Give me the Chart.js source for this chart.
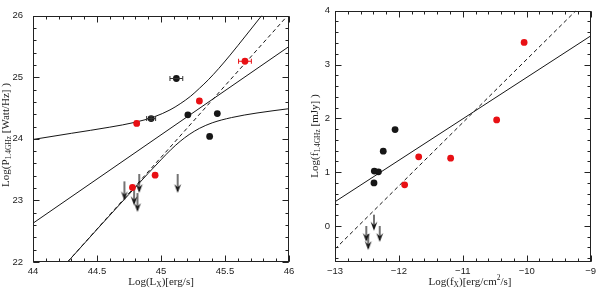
<!DOCTYPE html>
<html><head><meta charset="utf-8">
<script src="https://cdn.jsdelivr.net/npm/chart.js@4/dist/chart.umd.min.js"></script>
<style>
html,body{margin:0;padding:0;background:#fff;}
#wrap{width:600px;height:290px;position:relative;overflow:hidden;}
.c{position:absolute;top:0;width:300px;height:290px;}
</style></head><body>
<div id="wrap">
<div class="c" style="left:0"><canvas id="left" width="300" height="290"></canvas></div>
<div class="c" style="left:300px"><canvas id="right" width="300" height="290"></canvas></div>
</div>
<script>
// ---------------- Left panel data: Log(Lx) vs Log(P1.4GHz) ----------------
const leftBlackX = [45.12, 44.923, 45.21, 45.44, 45.38];
const leftBlackY = [24.98, 24.33, 24.39, 24.41, 24.04];
const leftBlackXErr = [0.05, 0.035, 0, 0, 0];
const leftBlackYErr = [0, 0.03, 0, 0, 0];
const leftRedX = [45.656, 45.30, 44.81, 44.954, 44.777];
const leftRedY = [25.26, 24.615, 24.25, 23.41, 23.21];
const leftRedXErr = [0.05, 0, 0, 0, 0];
const leftRedYErr = [0, 0.03, 0.035, 0, 0];
const leftLimitX = [44.714, 44.79, 44.816, 44.83, 45.13];
const leftLimitY = [23.31, 23.23, 23.12, 23.43, 23.43];
const leftFitX = [44, 46];
const leftFitY = [22.63, 25.50];
const leftDashX = [44.27, 45.98];
const leftDashY = [22.0, 25.98];
const leftUpperX = [44.0, 44.3, 44.6, 44.8, 44.95, 45.07, 45.15, 45.23, 45.30, 45.37, 45.45, 45.54, 45.66, 45.79];
const leftUpperY = [23.99, 24.09, 24.19, 24.27, 24.36, 24.47, 24.57, 24.69, 24.82, 24.96, 25.14, 25.36, 25.67, 26.01];
const leftLowerX = [44.27, 44.5, 44.75, 44.9, 45.0, 45.08, 45.15, 45.22, 45.3, 45.4, 45.55, 45.75, 46.0];
const leftLowerY = [22.0, 22.53, 23.1, 23.44, 23.66, 23.83, 23.96, 24.07, 24.17, 24.26, 24.345, 24.42, 24.49];
const leftXTicks = [44, 44.5, 45, 45.5, 46];
const leftYTicks = [22, 23, 24, 25, 26];

// ---------------- Right panel data: Log(fx) vs Log(f1.4GHz) ----------------
const rightBlackX = [-12.06, -12.245, -12.385, -12.32, -12.39];
const rightBlackY = [1.79, 1.39, 1.02, 1.005, 0.80];
const rightRedX = [-10.04, -10.47, -11.69, -11.19, -11.91];
const rightRedY = [3.41, 1.97, 1.285, 1.26, 0.764];
const rightLimitX = [-12.39, -12.30, -12.51, -12.48];
const rightLimitY = [0.21, 0.0, 0.0, -0.15];
const rightFitX = [-13, -9];
const rightFitY = [0.45, 3.53];
const rightDashX = [-13, -9.23];
const rightDashY = [-0.43, 4.0];
const rightXTicks = [-13, -12, -11, -10, -9];
const rightYTicks = [0, 1, 2, 3, 4];

const pts = (xs, ys) => xs.map((x, i) => ({x, y: ys[i]}));
const RED = 'rgb(232,16,20)';
const INK = '#161616';

function makeArrow(len) {
  const c = document.createElement('canvas');
  c.width = 12; c.height = 2 * len + 4;
  const g = c.getContext('2d');
  const cy = c.height / 2;
  g.strokeStyle = INK; g.lineWidth = 1.2;
  g.beginPath(); g.moveTo(6, cy); g.lineTo(6, cy + len - 2); g.stroke();
  g.fillStyle = INK;
  g.beginPath();
  g.moveTo(6, cy + len);
  g.lineTo(2.6, cy + len - 9);
  g.lineTo(6, cy + len - 5.5);
  g.lineTo(9.4, cy + len - 9);
  g.closePath(); g.fill();
  return c;
}

const errorBars = {
  id: 'errorBars',
  afterDatasetsDraw(chart) {
    const {ctx, scales: {x, y}} = chart;
    ctx.save();
    ctx.lineWidth = 1;
    chart.data.datasets.forEach((ds) => {
      if (!ds.errX && !ds.errY) return;
      ctx.strokeStyle = ds.errColor || INK;
      ds.data.forEach((p, i) => {
        const ex = ds.errX ? ds.errX[i] : 0, ey = ds.errY ? ds.errY[i] : 0;
        const py = y.getPixelForValue(p.y), px = x.getPixelForValue(p.x);
        if (ex > 0) {
          const a = x.getPixelForValue(p.x - ex), b = x.getPixelForValue(p.x + ex);
          ctx.beginPath();
          ctx.moveTo(a, py); ctx.lineTo(b, py);
          ctx.moveTo(a, py - 2.5); ctx.lineTo(a, py + 2.5);
          ctx.moveTo(b, py - 2.5); ctx.lineTo(b, py + 2.5);
          ctx.stroke();
        }
        if (ey > 0) {
          const a = y.getPixelForValue(p.y - ey), b = y.getPixelForValue(p.y + ey);
          ctx.beginPath();
          ctx.moveTo(px, a); ctx.lineTo(px, b);
          ctx.moveTo(px - 2.5, a); ctx.lineTo(px + 2.5, a);
          ctx.moveTo(px - 2.5, b); ctx.lineTo(px + 2.5, b);
          ctx.stroke();
        }
      });
    });
    ctx.restore();
  }
};

const frameTicks = {
  id: 'frameTicks',
  afterDraw(chart, args, o) {
    const {ctx, chartArea: a, scales: {x, y}} = chart;
    ctx.save();
    ctx.strokeStyle = '#222'; ctx.lineWidth = 1;
    const L = Math.round(a.left) + 0.5, R = Math.round(a.right) - 0.5;
    const T = Math.round(a.top) + 0.5, B = Math.round(a.bottom) - 0.5;
    ctx.strokeRect(L, T, R - L, B - T);
    const drawX = (v, len) => {
      const p = Math.round(x.getPixelForValue(v)) + 0.5;
      ctx.beginPath(); ctx.moveTo(p, B); ctx.lineTo(p, B - len);
      ctx.moveTo(p, T); ctx.lineTo(p, T + len); ctx.stroke();
    };
    const drawY = (v, len) => {
      const p = Math.round(y.getPixelForValue(v)) + 0.5;
      ctx.beginPath(); ctx.moveTo(L, p); ctx.lineTo(L + len, p);
      ctx.moveTo(R, p); ctx.lineTo(R - len, p); ctx.stroke();
    };
    const minors = (sc, step, fn) => {
      const n0 = Math.ceil(sc.min / step - 1e-6), n1 = Math.floor(sc.max / step + 1e-6);
      for (let n = n0; n <= n1; n++) fn(n * step, 3);
    };
    minors(x, o.xMinor, drawX);
    minors(y, o.yMinor, drawY);
    o.xMajor.forEach(v => drawX(v, 6));
    o.yMajor.forEach(v => drawY(v, 6));
    ctx.restore();
  }
};

function drawRuns(ctx, runs, cx, cy, size, family) {
  let total = 0;
  const parts = runs.map(r => {
    const fs = r.t === 'n' ? size : size * 0.68;
    ctx.font = fs + 'px ' + family;
    const w = ctx.measureText(r.s).width;
    total += w;
    return Object.assign({}, r, {fs, w});
  });
  let x = cx - total / 2;
  ctx.textAlign = 'left'; ctx.textBaseline = 'middle';
  for (const p of parts) {
    ctx.font = p.fs + 'px ' + family;
    const dy = p.t === 'sub' ? size * 0.3 : (p.t === 'sup' ? -size * 0.35 : 0);
    ctx.fillText(p.s, x, cy + dy);
    x += p.w;
  }
}

const axisTitles = {
  id: 'axisTitles',
  afterDraw(chart, args, o) {
    const ctx = chart.ctx;
    ctx.save();
    ctx.fillStyle = '#222';
    const fam = '"Liberation Serif", serif';
    drawRuns(ctx, o.xRuns, o.xPos[0], o.xPos[1], 11, fam);
    ctx.translate(o.yPos[0], o.yPos[1]);
    ctx.rotate(-Math.PI / 2);
    drawRuns(ctx, o.yRuns, 0, 0, 11, fam);
    ctx.restore();
  }
};

function buildChart(id, cfg) {
  const tickFont = {family: '"Liberation Sans", sans-serif', size: 9.5};
  return new Chart(document.getElementById(id), {
    type: 'scatter',
    data: {datasets: [
      {data: pts(cfg.bx, cfg.by), backgroundColor: INK, pointRadius: 3.4, borderWidth: 0, order: 1,
       errX: cfg.bex, errY: cfg.bey, errColor: '#333'},
      {data: pts(cfg.rx, cfg.ry), backgroundColor: RED, pointRadius: 3.4, borderWidth: 0, order: 1,
       errX: cfg.rex, errY: cfg.rey, errColor: RED},
      {data: pts(cfg.lx, cfg.ly), pointStyle: cfg.arrow, pointRadius: 5, order: 2},
      {data: pts(cfg.fx, cfg.fy), showLine: true, borderColor: INK, borderWidth: 1, pointRadius: 0, order: 5},
      {data: pts(cfg.dx, cfg.dy), showLine: true, borderColor: INK, borderWidth: 1, borderDash: [4, 3], pointRadius: 0, order: 5},
      ...(cfg.curves || []).map(c => ({data: pts(c[0], c[1]), showLine: true, borderColor: INK, borderWidth: 1,
        pointRadius: 0, cubicInterpolationMode: 'monotone', order: 5}))
    ]},
    options: {
      responsive: false, animation: false, devicePixelRatio: 1,
      layout: {padding: {top: 5, right: cfg.padRight, left: 0, bottom: 0}},
      plugins: {legend: {display: false}, tooltip: {enabled: false},
        frameTicks: {xMajor: cfg.xt, yMajor: cfg.yt, xMinor: cfg.xMinor, yMinor: cfg.yMinor},
        axisTitles: {xRuns: cfg.xRuns, yRuns: cfg.yRuns, xPos: cfg.xPos, yPos: cfg.yPos}},
      scales: {
        x: {type: 'linear', min: cfg.xr[0], max: cfg.xr[1],
          grid: {display: false, drawTicks: false}, border: {display: false},
          afterBuildTicks: s => { s.ticks = cfg.xt.map(v => ({value: v})); },
          afterFit: s => { s.height = 28; },
          ticks: {autoSkip: false, maxRotation: 0, padding: 4, color: '#222', font: tickFont,
            callback: v => String(v).replace('-', '\u2212')}},
        y: {type: 'linear', min: cfg.yr[0], max: cfg.yr[1],
          grid: {display: false, drawTicks: false}, border: {display: false},
          afterBuildTicks: s => { s.ticks = cfg.yt.map(v => ({value: v})); },
          afterFit: s => { s.width = cfg.yWidth; },
          ticks: {autoSkip: false, padding: cfg.yPad, color: '#222', font: tickFont,
            callback: v => String(v).replace('-', '\u2212')}}
      }
    },
    plugins: [errorBars, frameTicks, axisTitles]
  });
}

buildChart('left', {
  bx: leftBlackX, by: leftBlackY, bex: leftBlackXErr, bey: leftBlackYErr,
  rx: leftRedX, ry: leftRedY, rex: leftRedXErr, rey: leftRedYErr,
  lx: leftLimitX, ly: leftLimitY, arrow: makeArrow(19),
  fx: leftFitX, fy: leftFitY, dx: leftDashX, dy: leftDashY,
  curves: [[leftUpperX, leftUpperY], [leftLowerX, leftLowerY]],
  xr: [44, 46], yr: [22, 26], xt: leftXTicks, yt: leftYTicks, xMinor: 0.1, yMinor: 0.2,
  padRight: 11, yWidth: 33, yPad: 10,
  xRuns: [{s: 'Log(L', t: 'n'}, {s: 'X', t: 'sub'}, {s: ')[erg/s]', t: 'n'}],
  yRuns: [{s: 'Log(P', t: 'n'}, {s: '1.4GHz', t: 'sub'}, {s: ' [Watt/Hz] )', t: 'n'}],
  xPos: [161, 282], yPos: [6, 135]
});

buildChart('right', {
  bx: rightBlackX, by: rightBlackY, bex: null, bey: null,
  rx: rightRedX, ry: rightRedY, rex: null, rey: null,
  lx: rightLimitX, ly: rightLimitY, arrow: makeArrow(16),
  fx: rightFitX, fy: rightFitY, dx: rightDashX, dy: rightDashY,
  curves: [],
  xr: [-13, -9], yr: [-0.67, 4], xt: rightXTicks, yt: rightYTicks, xMinor: 0.2, yMinor: 0.2,
  padRight: 7, yWidth: 35, yPad: 5,
  xRuns: [{s: 'Log(f', t: 'n'}, {s: 'X', t: 'sub'}, {s: ')[erg/cm', t: 'n'}, {s: '2', t: 'sup'}, {s: '/s]', t: 'n'}],
  yRuns: [{s: 'Log(f', t: 'n'}, {s: '1.4GHz', t: 'sub'}, {s: ' [mJy] )', t: 'n'}],
  xPos: [170, 282], yPos: [15, 136]
});
</script>
</body></html>
